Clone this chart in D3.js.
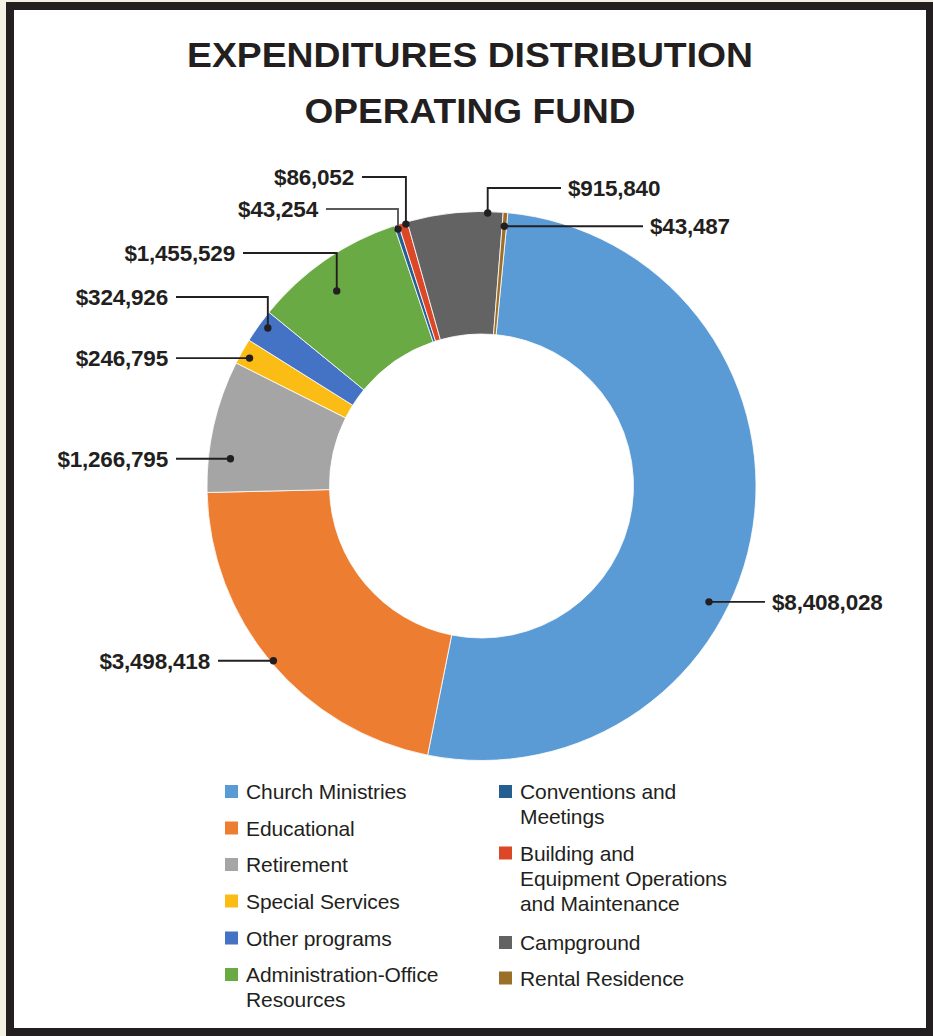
<!DOCTYPE html>
<html>
<head>
<meta charset="utf-8">
<script src="https://cdn.jsdelivr.net/npm/d3@7"></script>
<style>
  html, body { margin: 0; padding: 0; background: #f3f0e4; }
  svg { display: block; }
</style>
</head>
<body>
<svg id="chart" width="933" height="1036"></svg>
<script>
const categories = ['Church Ministries', 'Educational', 'Retirement', 'Special Services', 'Other programs',
  'Administration-Office Resources', 'Conventions and Meetings',
  'Building and Equipment Operations and Maintenance', 'Campground', 'Rental Residence'];
const amounts = [8408028, 3498418, 1266795, 246795, 324926, 1455529, 43254, 86052, 915840, 43487];
const colors = ['#5b9bd5', '#ed7d31', '#a5a5a5', '#fbbc16', '#4472c4', '#6aaa44', '#255e91', '#dc4727', '#636363', '#9c6f28'];
const titleLines = ['EXPENDITURES DISTRIBUTION', 'OPERATING FUND'];

// legend text broken the way the original wraps it
const legendLines = [['Church Ministries'], ['Educational'], ['Retirement'], ['Special Services'], ['Other programs'],
  ['Administration-Office', 'Resources'], ['Conventions and', 'Meetings'],
  ['Building and', 'Equipment Operations', 'and Maintenance'], ['Campground'], ['Rental Residence']];

// where each data label sits: f = how far into the slice the leader dot is, r = dot radius / outer radius
const labelLayout = [
  { f: 0.60, r: 0.93, anchor: 'start', x: 772, elbow: false },
  { f: 0.50, r: 0.99, anchor: 'end', x: 210, elbow: false },
  { f: 0.27, r: 0.92, anchor: 'end', x: 168, elbow: false },
  { f: 0.41, r: 0.965, anchor: 'end', x: 168, elbow: false },
  { f: 0.61, r: 0.968, anchor: 'end', x: 168, elbow: true, y: 297 },
  { f: 0.44, r: 0.885, anchor: 'end', x: 235, elbow: true, y: 253 },
  { f: 0.58, r: 0.984, anchor: 'end', x: 318, elbow: true, y: 209 },
  { f: 0.79, r: 0.993, anchor: 'end', x: 354, elbow: true, y: 177 },
  { f: 0.84, r: 0.995, anchor: 'start', x: 568, elbow: true, y: 188 },
  { f: 0.50, r: 0.95, anchor: 'start', x: 650, elbow: false }
];

const svg = d3.select('#chart');
const ink = '#231f20';
const font = '"Liberation Sans", Arial, Helvetica, sans-serif';

// frame
svg.append('rect').attr('x', 6).attr('y', 2).attr('width', 927).attr('height', 1034).attr('fill', ink);
svg.append('rect').attr('x', 14).attr('y', 10).attr('width', 912).attr('height', 1018).attr('fill', '#fff');

// title
const titleW = [566, 331];
svg.selectAll('text.title').data(titleLines).enter().append('text')
  .attr('class', 'title')
  .attr('x', 470)
  .attr('y', (d, i) => 67 + i * 56)
  .attr('text-anchor', 'middle')
  .attr('textLength', (d, i) => titleW[i])
  .attr('lengthAdjust', 'spacingAndGlyphs')
  .style('font-family', font)
  .style('font-weight', 'bold')
  .style('font-size', '35px')
  .style('fill', ink)
  .text(d => d);

// donut
const cx = 481.5, cy = 486, outerR = 274.5, innerR = 152;
const startA = 5.5 * Math.PI / 180;
const pie = d3.pie().sort(null).value(d => d).startAngle(startA).endAngle(startA + 2 * Math.PI);
const arcs = pie(amounts);
const arc = d3.arc().innerRadius(innerR).outerRadius(outerR);

const g = svg.append('g').attr('transform', `translate(${cx},${cy})`);
g.selectAll('path').data(arcs).enter().append('path')
  .attr('d', arc)
  .attr('fill', (d, i) => colors[i])
  .attr('stroke', '#fff')
  .attr('stroke-width', 0.8);

// data labels with leader lines
const fmt = d3.format(',');
arcs.forEach((a, i) => {
  const L = labelLayout[i];
  const ang = a.startAngle + L.f * (a.endAngle - a.startAngle);
  const dx = cx + L.r * outerR * Math.sin(ang);
  const dy = cy - L.r * outerR * Math.cos(ang);
  const ly = L.elbow ? L.y : dy;
  const x0 = L.anchor === 'end' ? L.x + 8 : L.x - 7;
  const pts = L.elbow ? [[x0, ly], [dx, ly], [dx, dy]] : [[x0, ly], [dx, dy]];
  svg.append('path')
    .attr('d', d3.line()(pts))
    .attr('fill', 'none')
    .attr('stroke', i === 6 ? '#595959' : ink)
    .attr('stroke-width', 1.9);
  svg.append('circle').attr('cx', dx).attr('cy', dy).attr('r', 3.7).attr('fill', ink);
  svg.append('text')
    .attr('x', L.x)
    .attr('y', ly + 8)
    .attr('text-anchor', L.anchor)
    .style('font-family', font)
    .style('font-weight', 'bold')
    .style('font-size', '22.5px')
    .style('letter-spacing', '-0.2px')
    .style('fill', ink)
    .text('$' + fmt(amounts[i]));
});

// legend: two columns
const colX = [225, 499];
const baselines = [799, 835.5, 872, 908.5, 945.5, 982, 799, 860.5, 950, 985.5];
const legend = svg.append('g');
categories.forEach((c, i) => {
  const col = i < 6 ? 0 : 1;
  const by = baselines[i];
  legend.append('rect')
    .attr('x', colX[col]).attr('y', by - 14)
    .attr('width', 13).attr('height', 13)
    .attr('fill', colors[i]);
  const t = legend.append('text')
    .attr('x', colX[col] + 21)
    .attr('y', by)
    .style('font-family', font)
    .style('font-size', '21px')
    .style('letter-spacing', '-0.1px')
    .style('fill', ink);
  legendLines[i].forEach((ln, k) => {
    t.append('tspan').attr('x', colX[col] + 21).attr('y', by + k * 25).text(ln);
  });
});
</script>
</body>
</html>
